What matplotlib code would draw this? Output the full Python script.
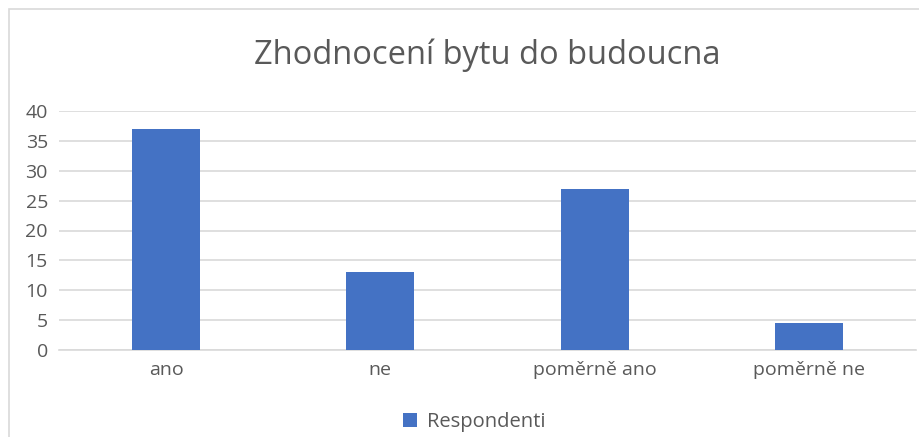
import matplotlib.pyplot as plt
from matplotlib.patches import Rectangle

# Data
kategorie = ["ano", "ne", "poměrně ano", "poměrně ne"]
respondenti = [37, 13, 27, 4.5]
yticks = [0, 5, 10, 15, 20, 25, 30, 35, 40]

barva = "#4472C4"
seda = "#595959"

plt.rcParams['font.family'] = ['Open Sans', 'DejaVu Sans']

fig = plt.figure(figsize=(9.2, 4.37), dpi=100)
ax = fig.add_axes([59 / 920, 1 - 350 / 437, 857 / 920, 239 / 437])

ax.bar(range(len(kategorie)), respondenti, width=0.317, color=barva, label="Respondenti", zorder=3)

ax.set_xlim(-0.5, len(kategorie) - 0.5)
ax.set_ylim(0, 40)
ax.set_yticks(yticks)
ax.set_xticks(range(len(kategorie)))
ax.set_xticklabels(kategorie)
ax.tick_params(axis='both', length=0, labelsize=14, colors=seda, pad=8)
ax.tick_params(axis='y', pad=8)
ax.grid(axis='y', color="#D9D9D9", linewidth=1.2, zorder=0)
for s in ["top", "right", "left"]:
    ax.spines[s].set_visible(False)
ax.spines["bottom"].set_color("#D9D9D9")
ax.spines["bottom"].set_linewidth(1.2)

fig.text(487 / 920, 1 - 55 / 437, "Zhodnocení bytu do budoucna", ha='center', va='center',
         fontsize=23.5, color=seda)

fig.legend(loc='center', bbox_to_anchor=(474 / 920, 1 - 422 / 437), frameon=False,
           fontsize=14.5, labelcolor=seda, handlelength=0.7, handleheight=0.7, handletextpad=0.5)

# chart border
fig.patches.append(Rectangle((9 / 920, -0.1), 1, 1.1 - 9 / 437, transform=fig.transFigure,
                             fill=False, edgecolor="#D9D9D9", linewidth=1.2))

fig.savefig("out.png", dpi=100)
